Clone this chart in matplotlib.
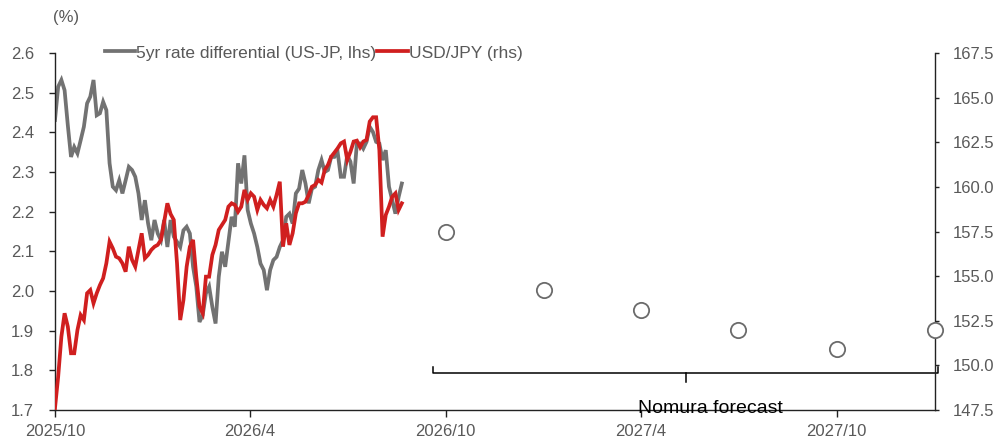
import matplotlib
matplotlib.use("Agg")
import matplotlib.pyplot as plt
import numpy as np
import pandas as pd

plt.rcParams['font.family'] = ['Liberation Sans', 'DejaVu Sans']

# ---------------- data ----------------
hist_start = "2025-10-01"
hist_freq = "3D"

rate_diff = [
    2.431, 2.515, 2.532, 2.506, 2.418, 2.338, 2.363, 2.347, 2.380, 2.414,
    2.473, 2.490, 2.532, 2.443, 2.448, 2.477, 2.456, 2.322, 2.263, 2.254,
    2.279, 2.246, 2.279, 2.313, 2.305, 2.288, 2.246, 2.179, 2.229, 2.170,
    2.128, 2.179, 2.145, 2.128, 2.179, 2.111, 2.179, 2.137, 2.124, 2.111,
    2.153, 2.162, 2.145, 2.061, 2.011, 1.922, 1.939, 1.994, 2.011, 1.960,
    1.918, 2.036, 2.099, 2.061, 2.124, 2.187, 2.162, 2.322, 2.271, 2.342,
    2.204, 2.170, 2.145, 2.111, 2.069, 2.053, 2.002, 2.053, 2.078, 2.086,
    2.111, 2.128, 2.187, 2.195, 2.170, 2.246, 2.258, 2.305, 2.271, 2.221,
    2.258, 2.263, 2.305, 2.330, 2.300, 2.305, 2.338, 2.338, 2.351, 2.288,
    2.288, 2.342, 2.326, 2.271, 2.372, 2.372, 2.359, 2.376, 2.414, 2.401,
    2.376, 2.372, 2.330, 2.355, 2.263, 2.229, 2.195, 2.237, 2.271,
]

usdjpy = [
    147.60, 149.37, 151.61, 152.92, 152.17, 150.68, 150.68, 151.98, 152.82, 152.54,
    154.04, 154.22, 153.48, 154.04, 154.50, 154.88, 155.72, 156.93, 156.56, 156.09,
    156.00, 155.72, 155.25, 156.65, 155.91, 155.53, 156.47, 157.40, 156.00, 156.19,
    156.47, 156.65, 156.75, 157.03, 158.05, 159.08, 158.48, 158.15, 155.72, 152.54,
    153.66, 155.53, 156.65, 157.03, 154.97, 153.29, 152.92, 154.97, 154.97, 156.19,
    156.75, 157.59, 157.87, 158.15, 158.89, 159.08, 158.99, 158.61, 158.89, 159.83,
    159.27, 159.64, 159.45, 158.71, 159.27, 158.99, 158.80, 159.27, 158.89, 159.55,
    160.29, 156.65, 157.96, 156.75, 157.40, 158.52, 159.08, 159.08, 159.17, 159.55,
    160.01, 160.11, 160.39, 160.24, 160.95, 161.23, 161.69, 161.92, 162.16, 162.44,
    162.54, 161.51, 161.97, 162.54, 162.59, 162.22, 162.54, 162.63, 163.66, 163.90,
    163.90, 162.07, 157.21, 158.43, 158.89, 159.45, 159.64, 158.71, 159.08,
]

forecast_dates = ["2026-10-01", "2027-01-01", "2027-04-01", "2027-07-01",
                  "2027-10-01", "2028-01-01"]
forecast_usdjpy = [157.5, 154.2, 153.1, 152.0, 150.9, 152.0]

xtick_dates = ["2025-10-01", "2026-04-01", "2026-10-01", "2027-04-01", "2027-10-01"]
xtick_labels = ["2025/10", "2026/4", "2026/10", "2027/4", "2027/10"]

left_ticks = [1.7, 1.8, 1.9, 2.0, 2.1, 2.2, 2.3, 2.4, 2.5, 2.6]
right_ticks = [147.5, 150.0, 152.5, 155.0, 157.5, 160.0, 162.5, 165.0, 167.5]

label_diff = "5yr rate differential (US-JP, lhs)"
label_jpy = "USD/JPY (rhs)"
forecast_text = "Nomura forecast"
unit_text = "(%)"

# ---------------- style ----------------
GRAY = "#727272"
RED = "#D01F1F"
TXT = "#595959"
FS = 12

dates = pd.date_range(hist_start, periods=len(rate_diff), freq=hist_freq)
fc_dates = pd.to_datetime(forecast_dates)

fig = plt.figure(figsize=(10.03, 4.48), dpi=100)
ax = fig.add_axes([0.0548, 0.0848, 0.8774, 0.7969])
ax2 = ax.twinx()

l1, = ax.plot(dates, rate_diff, color=GRAY, lw=2.7, label=label_diff,
              solid_joinstyle="miter")
l2, = ax2.plot(dates, usdjpy, color=RED, lw=2.7, label=label_jpy,
               solid_joinstyle="miter")
ax2.plot(fc_dates, forecast_usdjpy, "o", ms=11, mfc="white", mec="#6b6b6b",
         mew=1.3, clip_on=False, zorder=6, linestyle="none")

ax.set_xlim(pd.Timestamp("2025-10-01"), pd.Timestamp("2028-01-01"))
ax.set_ylim(1.7, 2.6)
ax2.set_ylim(147.5, 167.5)

ax.set_xticks(pd.to_datetime(xtick_dates))
ax.set_xticklabels(xtick_labels)
ax.set_yticks(left_ticks)
ax.set_yticklabels([f"{v:.1f}" for v in left_ticks])
ax2.set_yticks(right_ticks)
ax2.set_yticklabels([f"{v:.1f}" for v in right_ticks])
ax.minorticks_off()
ax2.minorticks_off()

for a in (ax, ax2):
    a.spines["top"].set_visible(False)
    for s in a.spines.values():
        s.set_linewidth(1.0)
        s.set_color("#222222")
ax.spines["right"].set_visible(False)
ax2.spines["left"].set_visible(False)
ax2.spines["bottom"].set_visible(False)

ax.tick_params(axis="x", direction="out", length=5, width=1.0, color="#222222",
               labelsize=FS, labelcolor=TXT, pad=5)
ax.tick_params(axis="y", direction="out", length=4, width=1.0, color="#222222",
               labelsize=FS, labelcolor=TXT, pad=11)
ax2.tick_params(axis="y", direction="out", length=3, width=1.0, color="#222222",
                labelsize=FS, labelcolor=TXT, pad=10)

# legend
fig.legend(handles=[l1, l2], loc="center left", bbox_to_anchor=(0.1047, 0.8817),
           ncol=2, frameon=False, fontsize=12.5, labelcolor=TXT,
           handlelength=1.75, handletextpad=0.05, columnspacing=0.05,
           borderpad=0, borderaxespad=0)

fig.text(0.066, 0.962, unit_text, ha="center", va="center", fontsize=FS, color=TXT)

# forecast bracket
tr = ax.transAxes
xl, xr, xc = 0.430, 1.0034, 0.717
yb, yh, yt = 0.1036, 0.1204, 0.0784
ax.plot([xl, xl, xr, xr], [yh, yb, yb, yh], color="black", lw=1.1,
        transform=tr, clip_on=False, zorder=7)
ax.plot([xc, xc], [yb, yt], color="black", lw=1.1, transform=tr,
        clip_on=False, zorder=7)
ax.text(0.745, -0.008, forecast_text, transform=tr, ha="center", va="baseline",
        fontsize=14, color="black", zorder=8)

fig.savefig("out.png", dpi=100)
